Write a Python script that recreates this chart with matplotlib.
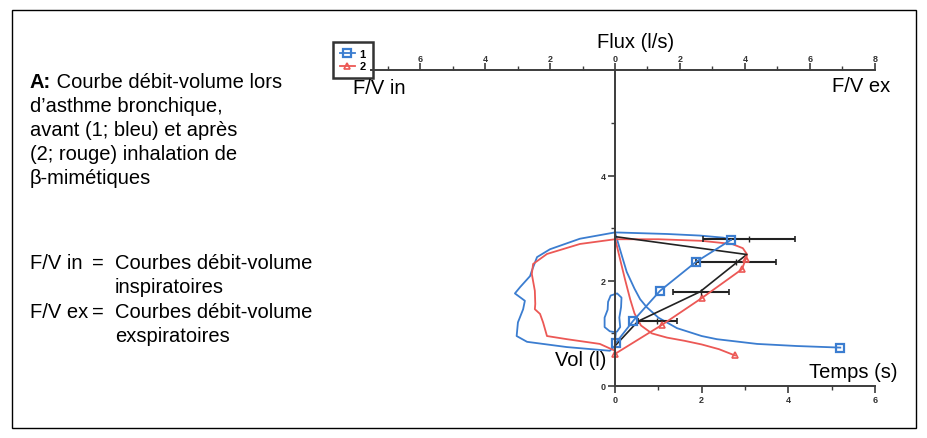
import matplotlib
matplotlib.use("Agg")
import matplotlib.pyplot as plt
from matplotlib.patches import Rectangle
from matplotlib.ticker import FixedLocator, FuncFormatter

plt.rcParams['font.family'] = ['Liberation Sans', 'DejaVu Sans']

W, H = 928, 439

# volume-time (x = time in s, y = volume in l); flow-volume loops share the same x,
# the top axis reads flux = time / 0.75
blue_loop_t = [0.0, -0.12, -1.11, -2.03, -2.27, -2.24, -2.12, -2.08, -2.31, -2.19,
               -1.96, -1.92, -1.8, -1.5, -0.81, 0.0, 1.2, 1.96, 2.5, 2.68]
blue_loop_v = [0.76, 0.67, 0.74, 0.84, 0.95, 1.21, 1.46, 1.62, 1.76, 1.88,
               2.09, 2.19, 2.45, 2.6, 2.8, 2.92, 2.89, 2.86, 2.82, 2.78]
blue_small_t = [0.0, 0.02, -0.12, -0.24, -0.24, -0.17, -0.16, -0.1, 0.05, 0.15,
                0.14, 0.1, 0.12, 0.05]
blue_small_v = [0.85, 1.02, 1.04, 1.12, 1.3, 1.45, 1.6, 1.72, 1.76, 1.68,
                1.5, 1.3, 1.12, 1.04]
blue_pts_t = [0.02, 0.42, 1.04, 1.87, 2.68]
blue_pts_v = [0.82, 1.24, 1.81, 2.36, 2.78]
blue_decay_t = [0.0, 0.15, 0.27, 0.45, 0.58, 0.73, 1.0, 1.43, 2.0, 2.35, 3.28, 4.2, 5.2]
blue_decay_v = [2.92, 2.5, 2.17, 1.85, 1.65, 1.5, 1.3, 1.1, 0.95, 0.89, 0.8, 0.76, 0.73]

red_loop_t = [0.0, -0.35, -1.11, -1.57, -1.66, -1.73, -1.85, -1.84, -1.85, -1.92,
              -1.89, -1.57, -0.81, 0.0, 1.0, 2.0, 2.7, 2.95, 3.05, 3.02]
red_loop_v = [0.67, 0.8, 0.89, 0.95, 1.21, 1.37, 1.46, 1.56, 1.81, 2.13,
              2.32, 2.51, 2.7, 2.79, 2.79, 2.76, 2.7, 2.62, 2.5, 2.42]
red_pts_t = [0.0, 1.08, 2.0, 2.93, 3.02]
red_pts_v = [0.61, 1.16, 1.67, 2.22, 2.42]
red_decay_t = [0.0, 0.12, 0.23, 0.35, 0.45, 0.6, 0.85, 1.2, 1.6, 2.0, 2.4, 2.77]
red_decay_v = [2.81, 2.4, 2.03, 1.65, 1.38, 1.15, 1.0, 0.92, 0.86, 0.79, 0.7, 0.58]

black_t = [0.0, 3.04, 1.96, 0.53, 0.02]
black_v = [2.84, 2.5, 1.79, 1.23, 0.78]
err_t = [0.98, 1.985, 2.8, 3.09]
err_v = [1.23, 1.79, 2.36, 2.79]
err_dt = [0.45, 0.645, 0.92, 1.06]

vol_ticks = [0, 2, 4]
time_ticks = [0, 2, 4, 6]
flux_ticks = [-6, -4, -2, 0, 2, 4, 6, 8]

BLUE = '#3b7dd0'
RED = '#ec5855'
AXC = '#3c3c3c'


def fx(x):
    return x / W


def fy(y):
    return 1 - y / H


fig = plt.figure(figsize=(W / 100, H / 100), dpi=100)

# frame around the whole panel
fig.patches.append(Rectangle((fx(12.5), fy(428.5)), fx(916.5) - fx(12.5), fy(10.5) - fy(428.5),
                             transform=fig.transFigure, fill=False, ec='black', lw=1.0))

# axes placed so that t=0 -> px 615, 1 s = 43.33 px ; v=0 -> py 387, 1 l = 52.6 px
left_px, right_px, top_px, bot_px = 355, 890, 60, 400
ax = fig.add_axes([fx(left_px), fy(bot_px), (right_px - left_px) / W, (bot_px - top_px) / H])
ax.set_xlim((left_px - 615) / 43.33, (right_px - 615) / 43.33)
ax.set_ylim((387 - bot_px) / 52.6, (387 - top_px) / 52.6)
ax.patch.set_alpha(0)

for s in ['top', 'right']:
    ax.spines[s].set_visible(False)
ax.spines['left'].set_position(('data', 0))
ax.spines['bottom'].set_position(('data', 0))
ax.spines['left'].set_bounds(0, 6)
ax.spines['bottom'].set_bounds(0, 6)
for s in ['left', 'bottom']:
    ax.spines[s].set_color(AXC)
    ax.spines[s].set_linewidth(1.4)

ax.yaxis.set_major_locator(FixedLocator(vol_ticks))
ax.yaxis.set_minor_locator(FixedLocator([1, 3, 5]))
ax.xaxis.set_major_locator(FixedLocator(time_ticks))
ax.xaxis.set_minor_locator(FixedLocator([1, 3, 5]))
ax.tick_params(which='major', direction='out', length=5, width=1.2, color=AXC,
               labelsize=6.5, labelcolor='#333333', pad=1.5)
ax.tick_params(which='minor', direction='out', length=3, width=1.0, color=AXC)
for lab in ax.get_xticklabels() + ax.get_yticklabels():
    lab.set_fontweight('bold')

# top flux axis
ax2 = ax.twiny()
ax2.set_xlim(ax.get_xlim()[0] / 0.75, ax.get_xlim()[1] / 0.75)
for s in ['left', 'right', 'bottom']:
    ax2.spines[s].set_visible(False)
ax2.spines['top'].set_position(('data', 6))
ax2.spines['top'].set_bounds(-7.5, 8)
ax2.spines['top'].set_color(AXC)
ax2.spines['top'].set_linewidth(1.4)
ax2.xaxis.set_major_locator(FixedLocator(flux_ticks))
ax2.xaxis.set_minor_locator(FixedLocator([-7, -5, -3, -1, 1, 3, 5, 7]))
ax2.xaxis.set_major_formatter(FuncFormatter(lambda v, p: f"{abs(v):g}"))
ax2.tick_params(which='major', direction='out', length=5, width=1.2, color=AXC,
                labelsize=6.5, labelcolor='#333333', pad=0.5)
ax2.tick_params(which='minor', direction='out', length=3, width=1.0, color=AXC)
for lab in ax2.get_xticklabels():
    lab.set_fontweight('bold')

# curves
lw = 1.3
ax.plot(blue_loop_t, blue_loop_v, color=BLUE, lw=lw)
ax.plot(blue_small_t, blue_small_v, color=BLUE, lw=lw)
ax.plot(blue_decay_t, blue_decay_v, color=BLUE, lw=lw)
ax.plot(red_loop_t, red_loop_v, color=RED, lw=lw)
ax.plot(red_decay_t, red_decay_v, color=RED, lw=lw)
ax.plot(black_t, black_v, color='#222222', lw=1.2)
ax.errorbar(err_t, err_v, xerr=err_dt, fmt='|', color='#222222', ms=4,
            elinewidth=1.5, capsize=2, capthick=1.2)
h1, = ax.plot(blue_pts_t, blue_pts_v, color=BLUE, lw=lw, marker='s', ms=6,
              mfc='none', mec=BLUE, mew=1.6)
ax.plot([blue_decay_t[-1]], [blue_decay_v[-1]], 's', ms=6, mfc='none', mec=BLUE, mew=1.6)
h2, = ax.plot(red_pts_t, red_pts_v, color=RED, lw=lw, marker='^', ms=5,
              mfc='none', mec=RED, mew=1.2)
ax.plot([red_decay_t[-1]], [red_decay_v[-1]], '^', ms=5, mfc='none', mec=RED, mew=1.2)

leg = ax.legend([h1, h2], ['1', '2'], loc='upper left',
                bbox_to_anchor=(fx(333), fy(43)), bbox_transform=fig.transFigure,
                fontsize=8, handlelength=1.4, borderpad=0.6, labelspacing=0.25,
                handletextpad=0.4, borderaxespad=0, fancybox=False, framealpha=1,
                edgecolor='#333333', markerscale=0.85)
leg.get_frame().set_linewidth(1.8)
for t in leg.get_texts():
    t.set_fontweight('bold')

# axis labels
FS = 14.5
fig.text(fx(636), fy(43), 'Flux (l/s)', fontsize=FS, ha='center', va='center')
fig.text(fx(353), fy(89), 'F/V in', fontsize=FS, ha='left', va='center')
fig.text(fx(890), fy(86), 'F/V ex', fontsize=FS, ha='right', va='center')
fig.text(fx(606), fy(361), 'Vol (l)', fontsize=FS, ha='right', va='center')
fig.text(fx(898), fy(373), 'Temps (s)', fontsize=FS, ha='right', va='center')

# description text
tA = fig.text(fx(30), fy(88), 'A:', fontsize=FS, fontweight='bold', va='baseline')
fig.canvas.draw()
fig.text(tA.get_window_extent().x1 / W, fy(88), ' Courbe débit-volume lors',
         fontsize=FS, va='baseline')
desc_lines = ['d\u2019asthme bronchique,', 'avant (1; bleu) et après',
              '(2; rouge) inhalation de', 'β-mimétiques']
for i, line in enumerate(desc_lines):
    fig.text(fx(30), fy(112 + 24 * i), line, fontsize=FS, va='baseline')

legend_rows = [('F/V in', '=', 'Courbes débit-volume', 269),
               ('', '', 'inspiratoires', 293),
               ('F/V ex', '=', 'Courbes débit-volume', 318),
               ('', '', 'exspiratoires', 342)]
for a, b, c, y in legend_rows:
    fig.text(fx(30), fy(y), a, fontsize=FS, va='baseline')
    fig.text(fx(92), fy(y), b, fontsize=FS, va='baseline')
    fig.text(fx(115), fy(y), c, fontsize=FS, va='baseline')

fig.savefig('out.png', dpi=100)
